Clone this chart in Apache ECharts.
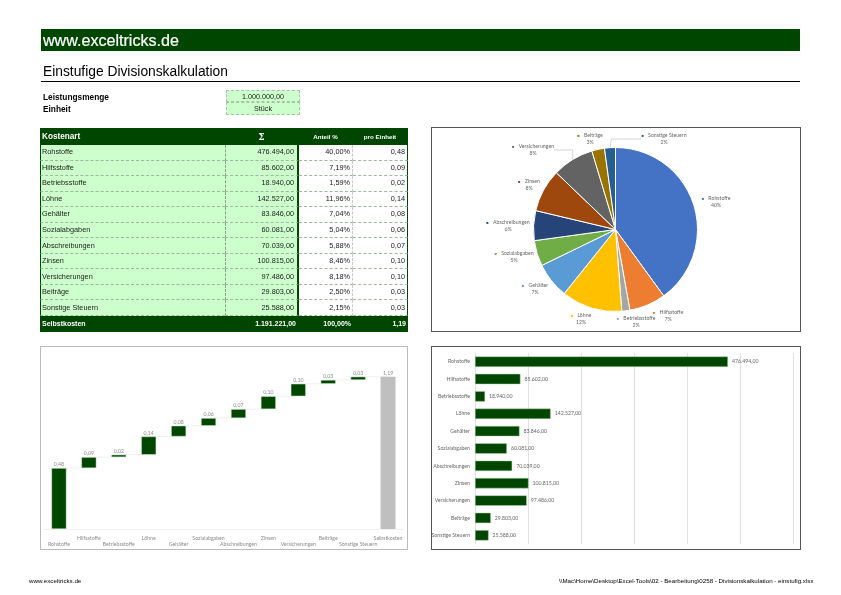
<!DOCTYPE html>
<html>
<head>
<meta charset="utf-8">
<title>Einstufige Divisionskalkulation</title>
<script src="https://cdn.jsdelivr.net/npm/echarts@6/dist/echarts.min.js"></script>
<style>
body { margin: 0; background: #fff; font-family: "Liberation Sans", Arial, sans-serif; color: #000; }
#page { position: relative; width: 841px; height: 595px; overflow: hidden; }
.abs { position: absolute; white-space: nowrap; will-change: transform; }
#banner { left: 41px; top: 29px; width: 759px; height: 22px; background: #004600; color: #fff; font-size: 16.1px; line-height: 23px; text-indent: 2px; -webkit-text-stroke: 0.2px #fff; }
#subtitle { left: 43px; top: 63px; font-size: 13.8px; line-height: 18px; }
#rule { left: 41px; top: 81px; width: 759px; height: 1px; background: #000; }
.param { left: 43px; font-size: 8.3px; font-weight: bold; }
.paramCell { left: 226px; width: 74px; height: 12px; background: #ccffcc; border: 1px dashed #a8c4a8; box-sizing: border-box; text-align: center; font-size: 7.2px; line-height: 11px; color: #222; }
#kosten { left: 40px; top: 128px; width: 368px; border-collapse: separate; border-spacing: 0; table-layout: fixed; font-size: 7.3px; color: #222; }
#kosten td { padding: 0 2px 0 1px; box-sizing: border-box; height: 15.55px; line-height: 10px; border-bottom: 1px dashed #9db89d; overflow: hidden; white-space: nowrap; }
#kosten .name { background: #ccffcc; border-left: 1px solid #004600; }
#kosten .sum { background: #ccffcc; text-align: right; padding-right: 3px; border-left: 1px dashed #8aa88a; border-right: 2px solid #004600; }
#kosten .pct { text-align: right; border-right: 1px dashed #c8c8c8; }
#kosten .unit { text-align: right; border-right: 1px solid #004600; }
#kosten tr.head td { background: #004600; color: #fff; font-weight: bold; height: 17px; border: 0; text-align: center; font-size: 6.2px; }
#kosten tr.head td.first { text-align: left; font-size: 8.2px; padding-left: 2px; }
#kosten tr.foot td { background: #004600; color: #fff; font-weight: bold; height: 16px; border: 0; text-align: right; font-size: 7px; }
#kosten tr.foot td.first { text-align: left; padding-left: 2px; }
.chartBox { position: absolute; box-sizing: border-box; background: #fff; }
.footer { top: 577px; font-size: 6.2px; line-height: 8px; }
</style>
</head>
<body>
<div id="page">
	<div class="abs" id="banner">www.exceltricks.de</div>
	<div class="abs" id="subtitle">Einstufige Divisionskalkulation</div>
	<div class="abs" id="rule"></div>
	<div class="abs param" style="top:92px">Leistungsmenge</div>
	<div class="abs param" style="top:104px">Einheit</div>
	<div class="abs paramCell" style="top:90px">1.000.000,00</div>
	<div class="abs paramCell" style="top:102px;height:13px">Stück</div>
	<table class="abs" id="kosten"><tbody id="kostenBody"></tbody></table>
	<div class="chartBox" id="pie" style="left:431px;top:127px;width:370px;height:205px;border:1px solid #555"></div>
	<div class="chartBox" id="waterfall" style="left:40px;top:346px;width:368px;height:204px;border:1px solid #bbb"></div>
	<div class="chartBox" id="bars" style="left:431px;top:346px;width:370px;height:204px;border:1px solid #555"></div>
	<div class="abs footer" style="left:29px">www.exceltricks.de</div>
	<div class="abs footer" style="right:28px">\\Mac\Home\Desktop\Excel-Tools\02 - Bearbeitung\0258 - Divisionskalkulation - einstufig.xlsx</div>
</div>
<script>
var categories = ['Rohstoffe', 'Hilfsstoffe', 'Betriebsstoffe', 'Löhne', 'Gehälter', 'Sozialabgaben', 'Abschreibungen', 'Zinsen', 'Versicherungen', 'Beiträge', 'Sonstige Steuern'];
var amounts = [476494, 85602, 18940, 142527, 83846, 60081, 70039, 100815, 97486, 29803, 25588];
var shares = ['40,00%', '7,19%', '1,59%', '11,96%', '7,04%', '5,04%', '5,88%', '8,46%', '8,18%', '2,50%', '2,15%'];
var perUnit = [0.48, 0.09, 0.02, 0.14, 0.08, 0.06, 0.07, 0.10, 0.10, 0.03, 0.03];
var totalAmount = 1191221;
var totalUnit = 1.19;
var quantity = 1000000;

var sliceColors = ['#4472C4', '#ED7D31', '#A5A5A5', '#FFC000', '#5B9BD5', '#70AD47', '#264478', '#9E480E', '#636363', '#997300', '#255E91'];
// label centres inside the pie chart box
var pieLabelX = [284, 236, 204, 149, 103, 82, 76, 97, 101, 158, 232];
var pieLabelY = [74, 188, 194, 191, 161, 129, 98, 57, 22, 11, 11];
var darkGreen = '#004600';
var chartFont = 'Lato';

function money(v) {
	return v.toFixed(2).replace('.', ',').replace(/\B(?=(\d{3})+(?!\d))/g, '.');
}
function comma(v) {
	return v.toFixed(2).replace('.', ',');
}

// table
var rows = '<tr class="head"><td class="first" style="width:185px">Kostenart</td><td style="width:74px;font-size:9px;font-family:\'DejaVu Serif\'">Σ</td><td style="width:54px">Anteil %</td><td style="width:55px">pro Einheit</td></tr>';
categories.forEach(function(name, i) {
	rows += '<tr><td class="name">' + name + '</td><td class="sum">' + money(amounts[i]) + '</td><td class="pct">' + shares[i] + '</td><td class="unit">' + comma(perUnit[i]) + '</td></tr>';
});
rows += '<tr class="foot"><td class="first">Selbstkosten</td><td style="padding-right:3px">' + money(totalAmount) + '</td><td>100,00%</td><td>' + comma(totalUnit) + '</td></tr>';
document.getElementById('kostenBody').innerHTML = rows;

// pie
var pieChart = echarts.init(document.getElementById('pie'));
pieChart.setOption({
	animation: false,
	series: [{
		type: 'pie',
		center: [183.5, 101.5],
		radius: [0, 82],
		startAngle: 90,
		clockwise: true,
		itemStyle: { borderColor: '#fff', borderWidth: 1 },
		label: { show: true, color: '#666', fontSize: 5.2, lineHeight: 7, fontFamily: chartFont },
		labelLine: { show: false },
		labelLayout: function(params) {
			return { x: pieLabelX[params.dataIndex], y: pieLabelY[params.dataIndex], align: 'center', verticalAlign: 'middle' };
		},
		data: categories.map(function(name, i) {
			var item = {
				name: name,
				value: amounts[i],
				itemStyle: { color: sliceColors[i] },
				label: {
					formatter: '{m|■} ' + name + '\n' + Math.round(amounts[i] / totalAmount * 100) + '%',
					rich: { m: { color: sliceColors[i], fontSize: 4, padding: [0, 3, 0, 0] } }
				}
			};
			if (i == 8 || i == 10) {
				item.labelLine = { show: true, lineStyle: { color: '#bbb', width: 0.6 } };
			}
			return item;
		})
	}]
});

// waterfall
var tops = [];
var running = 0;
amounts.forEach(function(v) {
	running += v / quantity;
	tops.push(running);
});
var bases = tops.map(function(t, i) { return i == 0 ? 0 : tops[i - 1]; });
var wfLabels = perUnit.map(comma).concat([comma(totalUnit)]);
var wfCategories = categories.concat(['Selbstkosten']);
var waterfallChart = echarts.init(document.getElementById('waterfall'));
waterfallChart.setOption({
	animation: false,
	grid: { left: 3, right: 4, top: 3, bottom: 20, outerBoundsMode: 'none' },
	xAxis: {
		type: 'category',
		data: wfCategories,
		axisTick: { show: false },
		axisLine: { lineStyle: { color: '#e4e4e4', width: 0.6 } },
		axisLabel: {
			interval: 0,
			hideOverlap: false,
			color: '#8c8c8c',
			fontSize: 5.2,
			lineHeight: 6,
			margin: 6,
			fontFamily: chartFont,
			formatter: function(value, index) { return index % 2 == 0 ? '\n' + value : value; }
		}
	},
	yAxis: { type: 'value', min: 0, max: 1.4, show: false },
	series: [
		{
			type: 'bar', stack: 'wf', barWidth: '50%', silent: true,
			itemStyle: { color: 'transparent' },
			data: bases.concat([0])
		},
		{
			type: 'bar', stack: 'wf', barWidth: '50%',
			label: {
				show: true, position: 'top', distance: 1, color: '#8c8c8c', fontSize: 5.2, fontFamily: chartFont,
				formatter: function(p) { return wfLabels[p.dataIndex]; }
			},
			data: amounts.map(function(v) {
				return { value: v / quantity, itemStyle: { color: darkGreen, borderColor: '#cfe8cf', borderWidth: 0.5 } };
			}).concat([{ value: totalAmount / quantity, itemStyle: { color: '#bfbfbf' } }])
		},
		{
			type: 'custom',
			silent: true,
			data: tops.map(function(t, i) { return [i, t]; }),
			renderItem: function(params, api) {
				var a = api.coord([api.value(0), api.value(1)]);
				var b = api.coord([api.value(0) + 1, api.value(1)]);
				return { type: 'line', shape: { x1: a[0], y1: a[1], x2: b[0], y2: b[1] }, style: { stroke: '#e4e4e4', lineWidth: 0.6 } };
			}
		}
	]
});

// horizontal bars
var barChart = echarts.init(document.getElementById('bars'));
barChart.setOption({
	animation: false,
	grid: { left: 43, right: 6.5, top: 6, bottom: 5, outerBoundsMode: 'none' },
	xAxis: {
		type: 'value', min: 0, max: 600000, interval: 100000,
		axisLabel: { show: false },
		axisTick: { show: false },
		axisLine: { show: false },
		splitLine: { lineStyle: { color: '#e0e0e0', width: 1 } }
	},
	yAxis: {
		type: 'category',
		inverse: true,
		data: categories,
		axisTick: { show: false },
		axisLine: { lineStyle: { color: '#e0e0e0' } },
		axisLabel: { interval: 0, color: '#666', fontSize: 5.2, margin: 5, fontFamily: chartFont }
	},
	series: [{
		type: 'bar',
		barWidth: '60%',
		data: amounts,
		itemStyle: { color: darkGreen, borderColor: '#a9d0a9', borderWidth: 0.5 },
		label: {
			show: true, position: 'right', distance: 4, color: '#666', fontSize: 5.2, fontFamily: chartFont,
			formatter: function(p) { return money(p.value); }
		}
	}]
});
</script>
</body>
</html>
